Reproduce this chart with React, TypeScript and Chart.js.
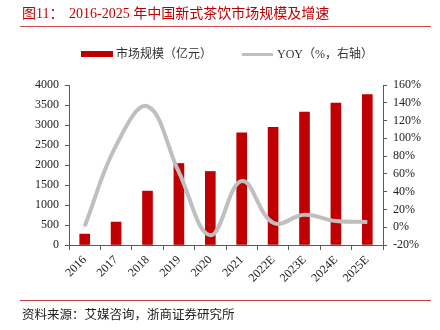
import React, { useEffect, useRef } from "react";
import { Chart, registerables } from "chart.js";

Chart.register(...registerables);

const categories = ["2016", "2017", "2018", "2019", "2020", "2021", "2022E", "2023E", "2024E", "2025E"];
const marketSize = [273, 574, 1347, 2038, 1838, 2802, 2944, 3326, 3550, 3760];
const yoyPct = [1, 92, 136, 62, -9, 52, 5, 14, 7, 6];
const leftTicks = [0, 500, 1000, 1500, 2000, 2500, 3000, 3500, 4000];
const rightTicks = [-20, 0, 20, 40, 60, 80, 100, 120, 140, 160];

const SERIF = "'Liberation Serif', 'Noto Sans CJK SC', serif";
const RED = "#C00000";
const GRAY = "#BFBFBF";
const AXIS = "#595959";

export default function App() {
  const ref = useRef<HTMLCanvasElement | null>(null);

  useEffect(() => {
    if (!ref.current) return;
    const chart = new Chart(ref.current, {
      data: {
        labels: categories,
        datasets: [
          {
            type: "line",
            label: "YOY（%，右轴）",
            data: yoyPct,
            yAxisID: "y1",
            borderColor: GRAY,
            backgroundColor: GRAY,
            borderWidth: 4,
            pointRadius: 0,
            tension: 0.4,
            order: 0,
          },
          {
            type: "bar",
            label: "市场规模（亿元）",
            data: marketSize,
            yAxisID: "y",
            backgroundColor: RED,
            barThickness: 10,
            order: 1,
          },
        ],
      },
      options: {
        animation: false,
        responsive: false,
        maintainAspectRatio: false,
        layout: { padding: { top: 85, left: 0, right: 0, bottom: 0 } },
        plugins: { legend: { display: false }, tooltip: { enabled: false } },
        scales: {
          x: {
            offset: true,
            grid: { drawOnChartArea: false, drawTicks: true, tickLength: 5, offset: true, color: AXIS },
            border: { color: AXIS },
            ticks: {
              minRotation: 45,
              maxRotation: 45,
              padding: 3,
              color: "#222",
              font: { family: SERIF, size: 12 },
            },
            afterFit: (s: any) => {
              s.height = 85;
            },
          },
          y: {
            position: "left",
            min: 0,
            max: 4000,
            afterBuildTicks: (s: any) => {
              s.ticks = leftTicks.map((v) => ({ value: v }));
            },
            grid: { drawOnChartArea: false, drawTicks: true, tickLength: 4, color: AXIS },
            border: { color: AXIS },
            ticks: {
              color: "#222",
              padding: 6,
              font: { family: SERIF, size: 12 },
              callback: (v: any) => String(v),
            },
            afterFit: (s: any) => {
              s.width = 69;
            },
          },
          y1: {
            position: "right",
            min: -20,
            max: 160,
            afterBuildTicks: (s: any) => {
              s.ticks = rightTicks.map((v) => ({ value: v }));
            },
            grid: { drawOnChartArea: false, drawTicks: true, tickLength: 4, color: AXIS },
            border: { color: AXIS },
            ticks: {
              color: "#222",
              padding: 6,
              font: { family: SERIF, size: 12 },
              callback: (v: any) => `${v}%`,
            },
            afterFit: (s: any) => {
              s.width = 57;
            },
          },
        },
      },
    } as any);
    return () => chart.destroy();
  }, []);

  const base: React.CSSProperties = { position: "absolute", whiteSpace: "nowrap", fontFamily: SERIF };

  return (
    <div style={{ position: "fixed", left: 0, top: 0, width: 440, height: 330, background: "#fff", overflow: "hidden" }}>
      <canvas ref={ref} width={440} height={330} style={{ position: "absolute", left: 0, top: 0, width: 440, height: 330 }} />
      <div style={{ ...base, left: 22, top: 5, fontSize: 14, lineHeight: "17px", color: RED }}>图11：</div>
      <div style={{ ...base, left: 69, top: 5, fontSize: 14, lineHeight: "17px", color: RED }}>
        2016-2025 年中国新式茶饮市场规模及增速
      </div>
      <div style={{ position: "absolute", left: 20, top: 26, width: 411, height: 1, background: "#D04848" }} />
      <div style={{ position: "absolute", left: 81, top: 51, width: 32, height: 6, background: RED }} />
      <div style={{ ...base, left: 116, top: 46, fontSize: 12, lineHeight: "16px", color: "#333" }}>市场规模（亿元）</div>
      <div style={{ position: "absolute", left: 242, top: 53, width: 31, height: 3, background: GRAY }} />
      <div style={{ ...base, left: 277, top: 46, fontSize: 12, lineHeight: "16px", color: "#333" }}>YOY（%，右轴）</div>
      <div style={{ position: "absolute", left: 20, top: 300, width: 411, height: 1, background: "#C04040" }} />
      <div style={{ ...base, left: 22, top: 307, fontSize: 12.5, lineHeight: "16px", color: "#222" }}>
        资料来源：艾媒咨询，浙商证券研究所
      </div>
    </div>
  );
}
